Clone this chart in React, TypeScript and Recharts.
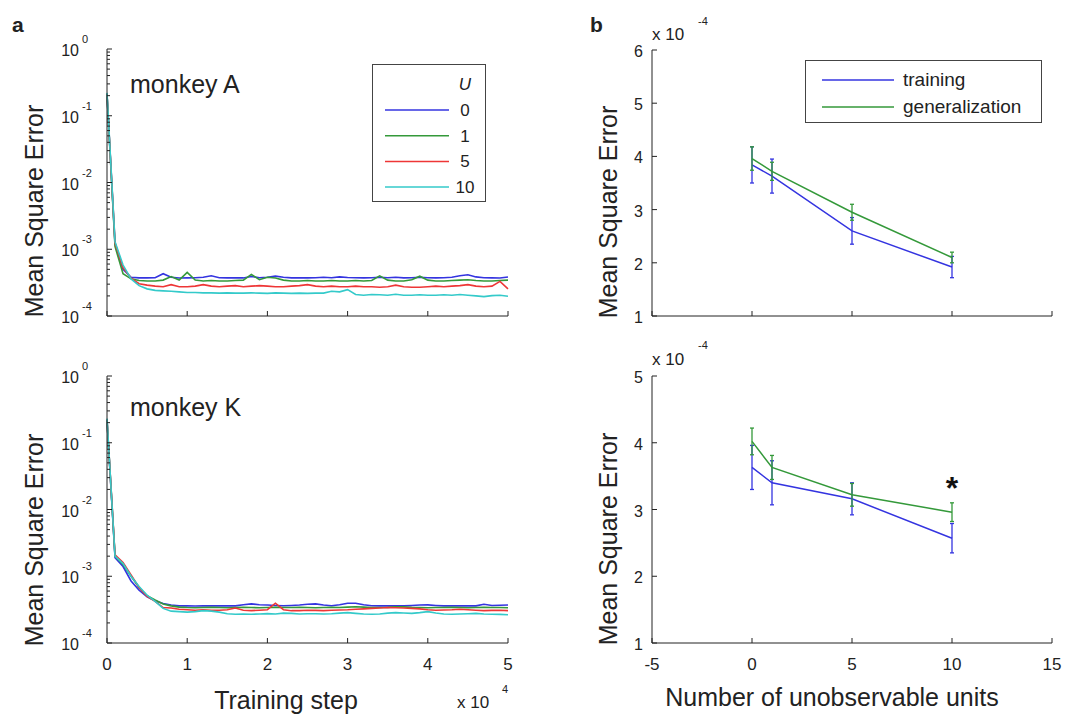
import { LineChart, Line, XAxis, YAxis, Legend, ComposedChart, ErrorBar, ReferenceDot } from 'recharts'

const FONT = '"Liberation Sans", Arial, sans-serif'
const INK = '#222'
const COLORS = ['#3434e0', '#34993a', '#ee3636', '#34caca']

// training step, in units of 10^4
const steps = [
  0, 0.1, 0.2, 0.3, 0.4, 0.5, 0.6, 0.7, 0.8, 0.9,
  1, 1.1, 1.2, 1.3, 1.4, 1.5, 1.6, 1.7, 1.8, 1.9,
  2, 2.1, 2.2, 2.3, 2.4, 2.5, 2.6, 2.7, 2.8, 2.9,
  3, 3.1, 3.2, 3.3, 3.4, 3.5, 3.6, 3.7, 3.8, 3.9,
  4, 4.1, 4.2, 4.3, 4.4, 4.5, 4.6, 4.7, 4.8, 4.9,
  5,
]

// mean square error, in units of 10^-4
const monkeyA_u0 = [
  2100, 12, 5.0, 3.8, 3.72, 3.72, 3.75, 4.3, 3.8, 3.7,
  3.72, 3.75, 3.8, 4.0, 3.75, 3.72, 3.75, 3.72, 3.9, 3.75,
  3.8, 3.95, 3.8, 3.72, 3.75, 3.72, 3.75, 3.8, 3.75, 3.85,
  3.78, 3.75, 3.72, 3.75, 3.8, 3.75, 3.8, 3.72, 3.75, 3.8,
  3.75, 3.72, 3.75, 3.8, 4.0, 4.15, 3.85, 3.75, 3.72, 3.7,
  3.85,
]
const monkeyA_u1 = [
  2100, 11, 4.3, 3.6, 3.4, 3.35, 3.35, 3.45, 3.9, 3.45,
  4.5, 3.45, 3.35, 3.4, 3.35, 3.35, 3.4, 3.45, 4.2, 3.5,
  3.8, 3.7, 3.45, 3.35, 3.35, 3.4, 3.35, 3.35, 3.4, 3.35,
  3.35, 3.4, 3.35, 3.4, 4.0, 3.45, 3.35, 3.35, 3.5, 3.95,
  3.45, 3.35, 3.35, 3.4, 3.45, 3.5, 3.4, 3.35, 3.35, 3.4,
  3.45,
]
const monkeyA_u5 = [
  2100, 12.5, 5.3, 3.7, 3.05, 2.9, 2.8, 2.75, 2.95, 2.75,
  2.75, 2.8, 2.95, 2.8, 2.75, 2.8, 2.85, 2.75, 2.8, 2.85,
  2.8, 2.75, 2.75, 2.8, 2.85, 2.95, 2.8, 2.75, 2.8, 2.75,
  2.75, 2.8, 2.75, 2.75, 2.7, 2.75, 2.9, 2.75, 2.7, 2.7,
  2.75, 2.8, 2.75, 2.8, 2.85, 2.95, 2.8, 2.75, 2.8, 3.3,
  2.55,
]
const monkeyA_u10 = [
  2200, 13, 5.8, 3.6, 2.85, 2.55, 2.42, 2.38, 2.35, 2.3,
  2.25, 2.25, 2.22, 2.22, 2.2, 2.22, 2.2, 2.2, 2.22, 2.2,
  2.18, 2.22, 2.2, 2.18, 2.2, 2.18, 2.2, 2.2, 2.35, 2.3,
  2.48, 2.1, 2.05, 2.1, 2.08, 2.05, 2.12, 2.05, 2.05, 2.08,
  2.05, 2.05, 2.08, 2.05, 2.1, 2.05, 2.0, 1.95, 2.02, 2.05,
  1.98,
]

const monkeyK_u0 = [
  2200, 19, 14, 8.5, 6.2, 4.9, 4.3, 3.9, 3.7, 3.6,
  3.6, 3.58, 3.6, 3.62, 3.6, 3.62, 3.6, 3.75, 3.85, 3.75,
  3.7, 3.65, 3.62, 3.65, 3.7, 3.8, 3.85, 3.7, 3.62, 3.75,
  3.95, 3.95, 3.75, 3.62, 3.6, 3.62, 3.6, 3.62, 3.65, 3.7,
  3.72, 3.65, 3.6, 3.6, 3.62, 3.6, 3.6, 3.8, 3.65, 3.68,
  3.7,
]
const monkeyK_u1 = [
  2200, 20, 15, 10, 6.8, 5.1, 4.4, 3.85, 3.6, 3.45,
  3.4, 3.38, 3.4, 3.42, 3.4, 3.38, 3.4, 3.42, 3.4, 3.38,
  3.4, 3.42, 3.4, 3.4, 3.42, 3.4, 3.38, 3.4, 3.42, 3.4,
  3.45, 3.5, 3.45, 3.4, 3.4, 3.42, 3.5, 3.48, 3.42, 3.4,
  3.38, 3.4, 3.4, 3.42, 3.4, 3.38, 3.4, 3.42, 3.4, 3.4,
  3.38,
]
const monkeyK_u5 = [
  2200, 21, 16, 10.5, 6.8, 5.0, 4.2, 3.4, 3.35, 3.2,
  3.15, 3.1, 3.15, 3.1, 3.1, 3.15, 3.35, 3.1, 3.05, 3.1,
  3.15, 3.95, 3.15, 3.05, 3.05, 3.1, 3.08, 3.05, 3.1, 3.12,
  3.15, 3.2, 3.25, 3.3, 3.35, 3.4, 3.38, 3.35, 3.3, 3.25,
  3.15, 3.1, 3.12, 3.15, 3.2, 3.15, 3.1, 3.05, 3.08, 3.1,
  3.05,
]
const monkeyK_u10 = [
  2300, 20, 15.5, 10, 7.0, 5.2, 4.2, 3.3, 3.0, 2.95,
  2.9, 2.95, 3.05, 3.0, 2.9, 2.75, 2.7, 2.72, 2.7, 2.72,
  2.75, 2.72, 2.8, 2.78, 2.72, 2.75, 2.75, 2.72, 2.75, 2.8,
  2.85, 2.78, 2.72, 2.7, 2.72, 2.8, 2.85, 2.82, 2.78, 2.85,
  2.95, 2.82, 2.72, 2.7, 2.72, 2.75, 2.78, 2.72, 2.7, 2.68,
  2.65,
]

const uLabels = ['0', '1', '5', '10']

// panel b: number of unobservable units vs MSE (x 10^-4)
const units = [0, 1, 5, 10]
const trainA = [3.84, 3.63, 2.6, 1.92]
const trainAErr = [0.34, 0.32, 0.25, 0.2]
const genA = [3.96, 3.72, 2.95, 2.1]
const genAErr = [0.22, 0.17, 0.15, 0.1]
const trainK = [3.63, 3.4, 3.16, 2.57]
const trainKErr = [0.33, 0.33, 0.24, 0.22]
const genK = [4.02, 3.63, 3.22, 2.96]
const genKErr = [0.2, 0.18, 0.17, 0.14]
const seriesB = ['training', 'generalization']
const sigUnit = 10
const sigLevel = 3.4

const stepTicks = [0, 1, 2, 3, 4, 5]
const logTicks = [
  1, 2, 3, 4, 5, 6, 7, 8, 9,
  10, 20, 30, 40, 50, 60, 70, 80, 90,
  100, 200, 300, 400, 500, 600, 700, 800, 900,
  1000, 2000, 3000, 4000, 5000, 6000, 7000, 8000, 9000,
  10000,
]
const unitTicks = [-5, 0, 5, 10, 15]
const msTicksA = [1, 2, 3, 4, 5, 6]
const msTicksK = [1, 2, 3, 4, 5]

const rowsA = steps.map((s, i) => ({ step: s, u0: monkeyA_u0[i], u1: monkeyA_u1[i], u5: monkeyA_u5[i], u10: monkeyA_u10[i] }))
const rowsK = steps.map((s, i) => ({ step: s, u0: monkeyK_u0[i], u1: monkeyK_u1[i], u5: monkeyK_u5[i], u10: monkeyK_u10[i] }))
const unitRowsA = units.map((u, i) => ({ u, train: trainA[i], trainErr: trainAErr[i], gen: genA[i], genErr: genAErr[i] }))
const unitRowsK = units.map((u, i) => ({ u, train: trainK[i], trainErr: trainKErr[i], gen: genK[i], genErr: genKErr[i] }))

const isMajor = (v: number) => {
  const e = Math.log10(v)
  return Math.abs(e - Math.round(e)) < 1e-6
}

// MATLAB style: ticks point inward, labels outside
const logLeftTick = (props: any) => {
  const { x, y, payload } = props
  const major = isMajor(payload.value)
  const e = Math.round(Math.log10(payload.value)) - 4
  return (
    <g>
      <line x1={x} y1={y} x2={x + (major ? 5 : 3)} y2={y} stroke={INK} />
      {major && (
        <g fontFamily={FONT} fill={INK}>
          <text x={x - 28} y={y + 7} textAnchor="end" fontSize={16}>10</text>
          <text x={x - 25} y={y - 6} fontSize={11}>{e}</text>
        </g>
      )}
    </g>
  )
}
const logRightTick = (props: any) => {
  const { x, y, payload } = props
  const major = isMajor(payload.value)
  return <line x1={x} y1={y} x2={x - (major ? 5 : 3)} y2={y} stroke={INK} />
}
const linLeftTick = (props: any) => {
  const { x, y, payload } = props
  return (
    <g>
      <line x1={x} y1={y} x2={x + 5} y2={y} stroke={INK} />
      <text x={x - 9} y={y + 7} textAnchor="end" fontSize={16} fontFamily={FONT} fill={INK}>{payload.value}</text>
    </g>
  )
}
const linRightTick = (props: any) => {
  const { x, y } = props
  return <line x1={x} y1={y} x2={x - 5} y2={y} stroke={INK} />
}
const bottomTick = (labels: boolean) => (props: any) => {
  const { x, y, payload } = props
  return (
    <g>
      <line x1={x} y1={y} x2={x} y2={y - 5} stroke={INK} />
      {labels && (
        <text x={x} y={y + 27} textAnchor="middle" fontSize={17} fontFamily={FONT} fill={INK}>{payload.value}</text>
      )}
    </g>
  )
}
const topTick = (props: any) => {
  const { x, y } = props
  return <line x1={x} y1={y} x2={x} y2={y + 5} stroke={INK} />
}

// keep the legend in plotting order
const ordered = (items: any[], order: string[]) =>
  [...items].sort((a, b) => order.indexOf(String(a.value)) - order.indexOf(String(b.value)))

const legendU = (props: any) => {
  const items = ordered(props.payload || [], uLabels)
  return (
    <svg width={114} height={138} style={{ display: 'block' }}>
      <rect x={0.5} y={0.5} width={113} height={137} fill="#fff" stroke="#444" />
      <text x={93} y={26} textAnchor="middle" fontSize={17} fontStyle="italic" fontFamily={FONT} fill={INK}>U</text>
      {items.map((it: any, i: number) => (
        <g key={i}>
          <line x1={13} x2={77} y1={46 + i * 25.7} y2={46 + i * 25.7} stroke={it.color} strokeWidth={1.5} />
          <text x={93} y={52 + i * 25.7} textAnchor="middle" fontSize={17} fontFamily={FONT} fill={INK}>{it.value}</text>
        </g>
      ))}
    </svg>
  )
}
const legendB = (props: any) => {
  const items = ordered(props.payload || [], seriesB)
  return (
    <svg width={237} height={63} style={{ display: 'block' }}>
      <rect x={0.5} y={0.5} width={236} height={62} fill="#fff" stroke="#444" />
      {items.map((it: any, i: number) => (
        <g key={i}>
          <line x1={17} x2={89} y1={20 + i * 27} y2={20 + i * 27} stroke={it.color} strokeWidth={1.5} />
          <text x={98} y={26 + i * 27} fontSize={19} fontFamily={FONT} fill={INK}>{it.value}</text>
        </g>
      ))}
    </svg>
  )
}

function LossPanel({ rows, top, height, marginTop, xHeight, labels, legend }: any) {
  return (
    <div style={{ position: 'absolute', left: 0, top }}>
      <LineChart width={540} height={height} data={rows} margin={{ top: marginTop, right: 32, bottom: 0, left: 0 }}>
        <XAxis dataKey="step" type="number" domain={[0, 5]} ticks={stepTicks} interval={0} height={xHeight}
          stroke={INK} tickSize={0} tickMargin={0} tickLine={false} tick={bottomTick(labels)} />
        <XAxis xAxisId="top" orientation="top" dataKey="step" type="number" domain={[0, 5]} ticks={stepTicks} interval={0}
          height={0} stroke={INK} tickSize={0} tickMargin={0} tickLine={false} tick={topTick} />
        <YAxis scale="log" type="number" domain={[1, 10000]} allowDataOverflow ticks={logTicks} interval={0} width={107}
          stroke={INK} tickSize={0} tickMargin={0} tickLine={false} tick={logLeftTick} />
        <YAxis yAxisId="right" orientation="right" scale="log" type="number" domain={[1, 10000]} allowDataOverflow
          ticks={logTicks} interval={0} width={0} stroke={INK} tickSize={0} tickMargin={0} tickLine={false} tick={logRightTick} />
        {['u0', 'u1', 'u5', 'u10'].map((k, i) => (
          <Line key={k} dataKey={k} name={uLabels[i]} stroke={COLORS[i]} strokeWidth={1.6} dot={false} isAnimationActive={false} />
        ))}
        {legend && (
          <Legend layout="vertical" align="center" verticalAlign="middle" content={legendU}
            wrapperStyle={{ left: 372, top: 64, width: 114, height: 138 }} />
        )}
      </LineChart>
    </div>
  )
}

function UnitsPanel({ rows, top, height, marginTop, xHeight, labels, yTicks, legend, star }: any) {
  const yMax = yTicks[yTicks.length - 1]
  return (
    <div style={{ position: 'absolute', left: 540, top }}>
      <ComposedChart width={540} height={height} data={rows} margin={{ top: marginTop, right: 28, bottom: 0, left: 0 }}>
        <XAxis dataKey="u" type="number" domain={[-5, 15]} ticks={unitTicks} interval={0} height={xHeight}
          stroke={INK} tickSize={0} tickMargin={0} tickLine={false} tick={bottomTick(labels)} />
        <XAxis xAxisId="top" orientation="top" dataKey="u" type="number" domain={[-5, 15]} ticks={unitTicks} interval={0}
          height={0} stroke={INK} tickSize={0} tickMargin={0} tickLine={false} tick={topTick} />
        <YAxis type="number" domain={[1, yMax]} ticks={yTicks} interval={0} width={112}
          stroke={INK} tickSize={0} tickMargin={0} tickLine={false} tick={linLeftTick} />
        <YAxis yAxisId="right" orientation="right" type="number" domain={[1, yMax]} ticks={yTicks} interval={0} width={0}
          stroke={INK} tickSize={0} tickMargin={0} tickLine={false} tick={linRightTick} />
        <Line dataKey="train" name={seriesB[0]} stroke={COLORS[0]} strokeWidth={1.5} dot={false} isAnimationActive={false}>
          <ErrorBar dataKey="trainErr" direction="y" width={2} stroke={COLORS[0]} strokeWidth={1.3} />
        </Line>
        <Line dataKey="gen" name={seriesB[1]} stroke={COLORS[1]} strokeWidth={1.5} dot={false} isAnimationActive={false}>
          <ErrorBar dataKey="genErr" direction="y" width={2} stroke={COLORS[1]} strokeWidth={1.3} />
        </Line>
        {star && (
          <ReferenceDot x={sigUnit} y={sigLevel} r={0} shape={(p: any) => (
            <text x={p.cx} y={p.cy + 16} textAnchor="middle" fontSize={32} fontWeight="bold" fontFamily={FONT} fill="#111">*</text>
          )} />
        )}
        {legend && (
          <Legend layout="vertical" align="center" verticalAlign="middle" content={legendB}
            wrapperStyle={{ left: 265, top: 60, width: 237, height: 63 }} />
        )}
      </ComposedChart>
    </div>
  )
}

export default function App() {
  const txt = { fontFamily: FONT, fill: INK }
  return (
    <div style={{ position: 'absolute', left: 0, top: 0, width: 1080, height: 716, background: '#fff', overflow: 'hidden' }}>
      <LossPanel rows={rowsA} top={0} height={340} marginTop={49} xHeight={24} labels={false} legend />
      <LossPanel rows={rowsK} top={340} height={376} marginTop={36} xHeight={73} labels legend={false} />
      <UnitsPanel rows={unitRowsA} top={0} height={340} marginTop={50} xHeight={24} labels={false} yTicks={msTicksA} legend star={false} />
      <UnitsPanel rows={unitRowsK} top={340} height={376} marginTop={36} xHeight={73} labels yTicks={msTicksK} legend={false} star />
      <svg width={1080} height={716} style={{ position: 'absolute', left: 0, top: 0, pointerEvents: 'none' }}>
        <g {...txt}>
          <text x={12} y={32} fontSize={21} fontWeight="bold">a</text>
          <text x={590} y={32} fontSize={21} fontWeight="bold">b</text>
          <text x={130} y={93} fontSize={25}>monkey A</text>
          <text x={130} y={416} fontSize={25}>monkey K</text>
          <text transform="translate(43,211) rotate(-90)" textAnchor="middle" fontSize={25}>Mean Square Error</text>
          <text transform="translate(43,540) rotate(-90)" textAnchor="middle" fontSize={25}>Mean Square Error</text>
          <text transform="translate(617,212) rotate(-90)" textAnchor="middle" fontSize={25}>Mean Square Error</text>
          <text transform="translate(617,539) rotate(-90)" textAnchor="middle" fontSize={25}>Mean Square Error</text>
          <text x={286} y={709} textAnchor="middle" fontSize={25}>Training step</text>
          <text x={832} y={706} textAnchor="middle" fontSize={25}>Number of unobservable units</text>
          <text x={457} y={708} fontSize={17}>x 10</text>
          <text x={502} y={693} fontSize={11}>4</text>
          <text x={652} y={40} fontSize={17}>x 10</text>
          <text x={698} y={25} fontSize={11}>-4</text>
          <text x={652} y={365} fontSize={17}>x 10</text>
          <text x={698} y={349} fontSize={11}>-4</text>
        </g>
      </svg>
    </div>
  )
}
